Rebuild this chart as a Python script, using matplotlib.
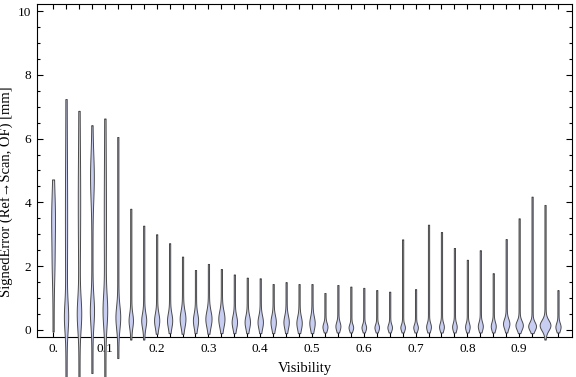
import numpy as np
import matplotlib.pyplot as plt
from matplotlib.ticker import MultipleLocator, FixedLocator

# visibility bins (one violin per bin)
vis = [0.0, 0.025, 0.05, 0.075, 0.1, 0.125, 0.15, 0.175, 0.2, 0.225,
       0.25, 0.275, 0.3, 0.325, 0.35, 0.375, 0.4, 0.425, 0.45, 0.475,
       0.5, 0.525, 0.55, 0.575, 0.6, 0.625, 0.65, 0.675, 0.7, 0.725,
       0.75, 0.775, 0.8, 0.825, 0.85, 0.875, 0.9, 0.925, 0.95, 0.975]

# min / max of signed error per bin [mm]
err_min = [-0.05, -1.5, -1.5, -1.35, -1.5, -0.88, -0.3, -0.3, -0.12, -0.1,
           -0.12, -0.1, -0.12, -0.1, -0.1, -0.1, -0.1, -0.1, -0.1, -0.1,
           -0.1, -0.08, -0.08, -0.08, -0.08, -0.08, -0.08, -0.08, -0.08, -0.08,
           -0.08, -0.08, -0.08, -0.08, -0.08, -0.08, -0.1, -0.1, -0.3, -0.08]
err_max = [4.72, 7.24, 6.87, 6.42, 6.63, 6.05, 3.8, 3.27, 3.0, 2.72,
           2.3, 1.88, 2.07, 1.91, 1.74, 1.64, 1.62, 1.44, 1.5, 1.44,
           1.44, 1.16, 1.41, 1.36, 1.32, 1.25, 1.2, 2.84, 1.28, 3.3,
           3.07, 2.57, 2.2, 2.5, 1.78, 2.85, 3.5, 4.18, 3.92, 1.25]

# main density bump: mode, spread, relative peak density
mode = [3.5, 0.4, 0.5, 0.6, 0.6, 0.4, 0.3, 0.3, 0.3, 0.3,
        0.35, 0.3, 0.35, 0.35, 0.25, 0.25, 0.25, 0.25, 0.25, 0.22,
        0.22, 0.1, 0.12, 0.08, 0.08, 0.08, 0.08, 0.08, 0.08, 0.1,
        0.1, 0.1, 0.1, 0.12, 0.12, 0.2, 0.15, 0.12, 0.15, 0.1]
spread = [0.8, 0.45, 0.5, 0.45, 0.5, 0.35, 0.22, 0.22, 0.22, 0.22,
          0.25, 0.22, 0.25, 0.25, 0.2, 0.2, 0.2, 0.2, 0.2, 0.2,
          0.2, 0.12, 0.13, 0.1, 0.1, 0.1, 0.1, 0.1, 0.1, 0.12,
          0.12, 0.12, 0.12, 0.13, 0.13, 0.15, 0.14, 0.13, 0.16, 0.12]
peak = [1.3, 1.4, 1.6, 1.5, 1.6, 1.8, 1.6, 1.9, 2.0, 2.0,
        2.3, 2.0, 2.5, 2.5, 2.1, 2.1, 2.1, 2.1, 2.1, 2.1,
        2.1, 1.9, 1.9, 1.7, 1.7, 1.7, 1.7, 1.7, 1.7, 1.8,
        1.8, 1.7, 1.7, 1.9, 1.9, 2.6, 3.1, 3.3, 4.8, 2.0]

# secondary bump (only the low-visibility bins have one)
mode2 = [2.0, 3.5, 4.0, 4.8, 3.5] + [0.0] * 35
spread2 = [0.6, 2.0, 1.6, 0.7, 1.8] + [1.0] * 35
peak2 = [0.6, 0.5, 0.6, 1.3, 0.5] + [0.0] * 35

plt.rcParams['font.family'] = ['Liberation Serif', 'DejaVu Serif']

fig = plt.figure(figsize=(5.76, 3.77), dpi=100)
ax = fig.add_axes([0.0634, 0.1061, 0.9305, 0.8833])

px = 1.0 / 518  # one pixel in x data units
for i, v in enumerate(vis):
    y = np.linspace(err_min[i], err_max[i], 400)
    hw = 0.6 + peak[i] * np.exp(-0.5 * ((y - mode[i]) / spread[i]) ** 2)
    hw = hw + peak2[i] * np.exp(-0.5 * ((y - mode2[i]) / spread2[i]) ** 2)
    hw = hw * px
    ax.fill_betweenx(y, v - hw, v + hw, facecolor='#c8cdf2',
                     edgecolor='#4a4a4a', linewidth=0.7, clip_on=False,
                     zorder=3)

ax.set_xlim(-0.032, 1.003)
ax.set_ylim(-0.22, 10.22)

ax.xaxis.set_major_locator(FixedLocator([0.0, 0.1, 0.2, 0.3, 0.4, 0.5, 0.6, 0.7, 0.8, 0.9]))
ax.set_xticklabels(['0.', '0.1', '0.2', '0.3', '0.4', '0.5', '0.6', '0.7', '0.8', '0.9'])
ax.xaxis.set_minor_locator(FixedLocator(vis))
ax.yaxis.set_major_locator(MultipleLocator(2))
ax.yaxis.set_minor_locator(MultipleLocator(0.5))

ax.tick_params(which='both', direction='in', top=True, right=True, width=0.8,
               labelsize=9.5, pad=4)
ax.tick_params(which='major', length=4)
ax.tick_params(which='minor', length=2.5)
ax.tick_params(axis='x', which='both', length=3.5)
for s in ax.spines.values():
    s.set_linewidth(0.8)

ax.set_xlabel('Visibility', fontsize=10.5)
ax.set_ylabel('SignedError (Ref\u2192Scan, OF) [mm]', fontsize=10.5)
ax.xaxis.set_label_coords(0.5, -0.074)
ax.yaxis.set_label_coords(-0.043, 0.435)

fig.savefig('out.png', dpi=100)
